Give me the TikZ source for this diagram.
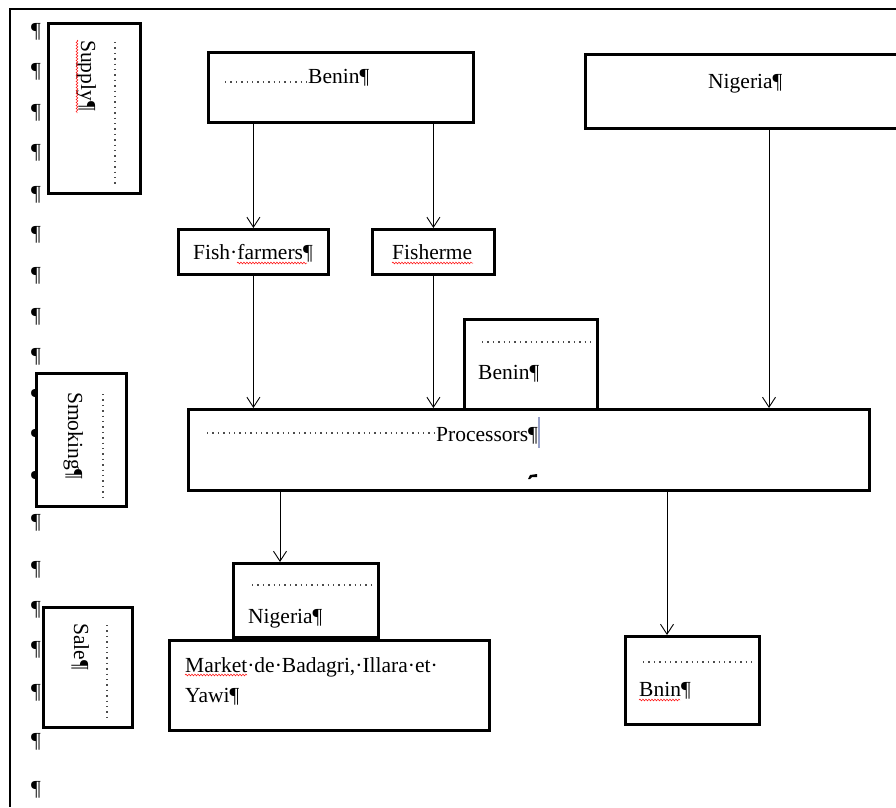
\documentclass[tikz,border=0pt]{standalone}
\usepackage{fontspec}
\setmainfont{Liberation Serif}
\usetikzlibrary{arrows.meta, positioning, decorations.pathmorphing}
\definecolor{cursorgray}{RGB}{150,160,200}

\begin{document}
\begin{tikzpicture}[x=1pt, y=-1pt,
    wbox/.style={rectangle, draw, line width=2.8pt, fill=white, inner sep=0pt, anchor=north west},
    txt/.style={inner sep=0pt, anchor=base west, font=\fontsize{21.5}{26}\selectfont},
    pil/.style={inner sep=0pt, font=\fontsize{21.5}{26}\selectfont},
    vtxt/.style={txt, rotate=-90},
    leader/.style={line width=1.4pt, dash pattern=on 1.4pt off 4pt, color=black!70},
    arr/.style={-{Straight Barb[length=10pt, width=13pt]}, line width=0.9pt},
    typo/.style={red, line width=0.5pt, decorate, decoration={snake, amplitude=0.9pt, segment length=3pt}}
  ]
  \useasboundingbox (0,0) rectangle (896,807);
  \clip (0,0) rectangle (896,807);

  % --- page frame ---
  \draw[line width=2.6pt] (896,9) -- (10,9) -- (10,807);

  % --- formatting marks down the margin ---
  \foreach \py in {32,72,113,153,195,235,276,317,357,398,438,480,523,570,610,650,693,742,790}
    \node[pil] (pm\py) at (36,\py) {¶};

  % --- side labels ---
  \node[wbox, minimum width=92pt, minimum height=170pt] (supply) at (47,22) {};
  \node[vtxt] (supply-t) at (81,40) {Supply¶};
  \draw[leader] (115,42) -- (115,187);

  \node[wbox, minimum width=90pt, minimum height=133pt] (smoking) at (35,372) {};
  \node[vtxt] (smoking-t) at (68,392) {Smoking¶};
  \draw[leader] (103,394) -- (103,497);

  \node[wbox, minimum width=89pt, minimum height=120pt] (sale) at (42,606) {};
  \node[vtxt] (sale-t) at (74,623) {Sale¶};
  \draw[leader] (107,625) -- (107,722);

  % --- Row 1: origins ---
  \node[wbox, minimum width=265pt, minimum height=70pt] (beninA) at (207,51) {};
  \node[txt] (beninA-t) at (308,83) {Benin¶};
  \draw[leader] (225,82) -- (308,82);

  \node[wbox, minimum width=330pt, minimum height=74pt] (nigeriaA) at (584,53) {};
  \node[txt] (nigeriaA-t) at (708,88) {Nigeria¶};

  % --- Row 2: suppliers ---
  \node[wbox, minimum width=150pt, minimum height=45pt] (fish) at (177,228) {};
  \node[txt] (fish-t) at (193,259) {Fish·farmers¶};

  \node[wbox, minimum width=122pt, minimum height=45pt] (fisher) at (371,228) {};
  \node[txt] (fisher-t) at (392,259) {Fisherme};

  % --- Row 3: processing ---
  \node[wbox, minimum width=133pt, minimum height=90pt] (beninB) at (463,318) {};
  \node[txt] (beninB-t) at (478,379) {Benin¶};
  \draw[leader] (482,342) -- (593,342);

  \node[wbox, minimum width=681pt, minimum height=81pt] (proc) at (187,408) {};
  \node[txt] (proc-t) at (436,441) {Processors¶};
  \draw[leader] (207,433) -- (435,433);
  \draw[cursorgray, line width=2pt] (539,417) -- (539,448);
  \fill (528,479) -- (530,475) -- (537,474) -- (537,477) -- (532,477) -- (530,479) -- cycle;

  % --- Row 4: sales ---
  \node[wbox, minimum width=145pt, minimum height=74pt] (nigeriaB) at (232,562) {};
  \node[txt] (nigeriaB-t) at (248,623) {Nigeria¶};
  \draw[leader] (252,585) -- (372,585);

  \node[wbox, minimum width=320pt, minimum height=90pt] (market) at (168,639) {};
  \node[txt] (market-t1) at (185,672) {Market·de·Badagri,·Illara·et·};
  \node[txt] (market-t2) at (185,702) {Yawi¶};

  \node[wbox, minimum width=134pt, minimum height=88pt] (bnin) at (624,635) {};
  \node[txt] (bnin-t) at (639,696) {Bnin¶};
  \draw[leader] (643,662) -- (755,662);

  % --- spelling marks ---
  \draw[typo] (77,40) -- (77,113);
  \draw[typo] (237,263) -- (307,263);
  \draw[typo] (392,263) -- (473,263);
  \draw[typo] (185,675) -- (247,675);
  \draw[typo] (639,700) -- (680,700);

  % --- Arrows ---
  \coordinate (ngdrop) at ([xshift=185pt]nigeriaA.south west);
  \coordinate (nbdrop) at ([xshift=48pt]nigeriaB.north west);
  \coordinate (bndrop) at ([xshift=43pt]bnin.north west);
  \draw[arr] (beninA.south -| fish.north) -- (fish.north);
  \draw[arr] (beninA.south -| fisher.north) -- (fisher.north);
  \draw[arr] (ngdrop) -- (ngdrop |- proc.north);
  \draw[arr] (fish.south) -- (fish.south |- proc.north);
  \draw[arr] (fisher.south) -- (fisher.south |- proc.north);
  \draw[arr] (proc.south -| nbdrop) -- (nbdrop);
  \draw[arr] (proc.south -| bndrop) -- (bndrop);
\end{tikzpicture}
\end{document}
